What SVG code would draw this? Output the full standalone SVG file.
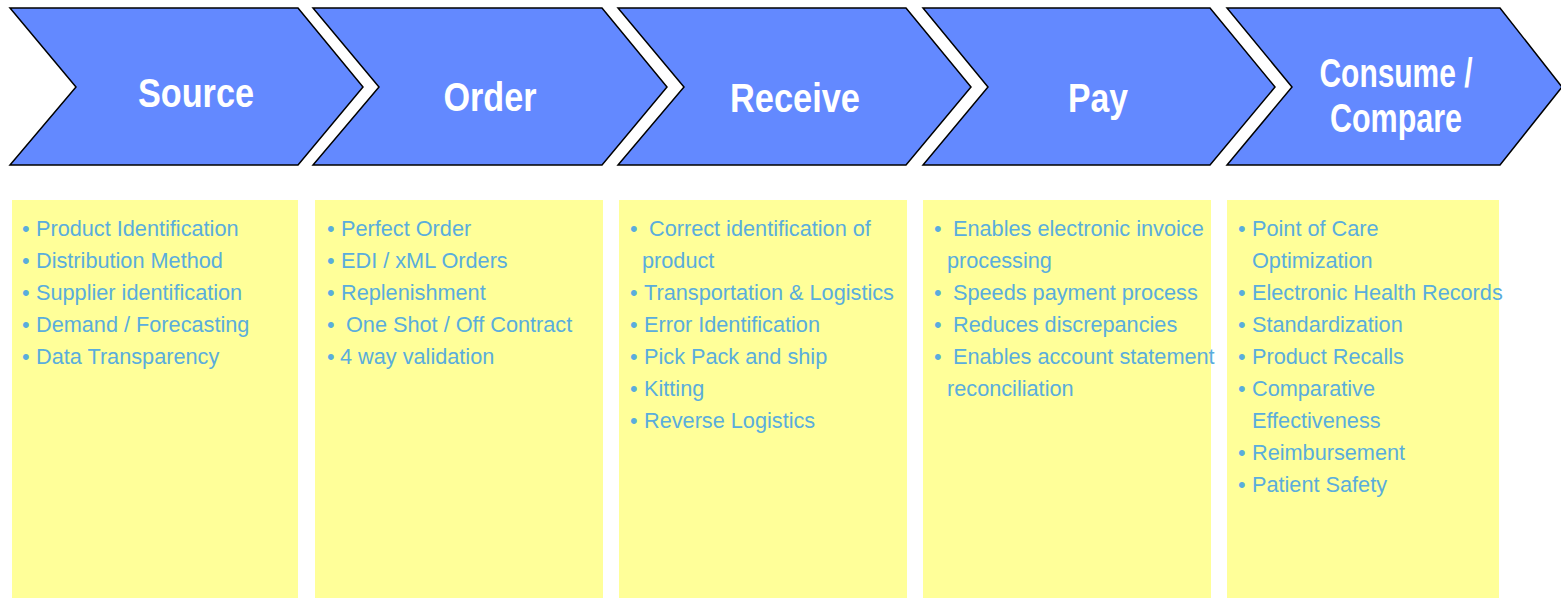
<svg xmlns="http://www.w3.org/2000/svg" width="1561" height="598" viewBox="0 0 1561 598">
<style>
.chev{fill:#6389FF;stroke:#000;stroke-width:1.5;stroke-linejoin:miter}
.ttl{font-family:"Liberation Sans",Arial,sans-serif;font-weight:bold;font-size:41px;fill:#fff;text-anchor:middle}
.box{fill:#FFFF99}
.it{font-family:"Liberation Sans",Arial,sans-serif;font-size:21.7px;fill:#5AADDD}
</style>
<rect width="1561" height="598" fill="#fff"/>
<g id="source">
<polygon class="chev" points="10,8 298,8 363,87 298,165 10,165 76,87"/>
<text class="ttl" x="196" y="107" textLength="116" lengthAdjust="spacingAndGlyphs">Source</text>
</g>
<g id="order">
<polygon class="chev" points="313,8 602,8 667,87 602,165 313,165 379,87"/>
<text class="ttl" x="490" y="111" textLength="93" lengthAdjust="spacingAndGlyphs">Order</text>
</g>
<g id="receive">
<polygon class="chev" points="618,8 906,8 971,87 906,165 618,165 684,87"/>
<text class="ttl" x="795" y="112" textLength="130" lengthAdjust="spacingAndGlyphs">Receive</text>
</g>
<g id="pay">
<polygon class="chev" points="923,8 1210,8 1275,87 1210,165 923,165 988,87"/>
<text class="ttl" x="1098" y="112" textLength="60" lengthAdjust="spacingAndGlyphs">Pay</text>
</g>
<g id="consume">
<polygon class="chev" points="1227,8 1500,8 1562,87 1500,165 1227,165 1292,87"/>
<text class="ttl" x="1396" y="87" textLength="153" lengthAdjust="spacingAndGlyphs">Consume /</text>
<text class="ttl" x="1396" y="132" textLength="132" lengthAdjust="spacingAndGlyphs">Compare</text>
</g>
<g id="source-list">
<rect class="box" x="12" y="200" width="286" height="398"/>
<text class="it"><tspan x="22" y="236">•</tspan><tspan x="36">Product Identification</tspan></text>
<text class="it"><tspan x="22" y="268">•</tspan><tspan x="36">Distribution Method</tspan></text>
<text class="it"><tspan x="22" y="300">•</tspan><tspan x="36">Supplier identification</tspan></text>
<text class="it"><tspan x="22" y="332">•</tspan><tspan x="36">Demand / Forecasting</tspan></text>
<text class="it"><tspan x="22" y="364">•</tspan><tspan x="36">Data Transparency</tspan></text>
</g>
<g id="order-list">
<rect class="box" x="315" y="200" width="288" height="398"/>
<text class="it"><tspan x="327" y="236">•</tspan><tspan x="341">Perfect Order</tspan></text>
<text class="it"><tspan x="327" y="268">•</tspan><tspan x="341">EDI / xML Orders</tspan></text>
<text class="it"><tspan x="327" y="300">•</tspan><tspan x="341">Replenishment</tspan></text>
<text class="it"><tspan x="327" y="332">•</tspan><tspan x="346">One Shot / Off Contract</tspan></text>
<text class="it"><tspan x="327" y="364">•</tspan><tspan x="340">4 way validation</tspan></text>
</g>
<g id="receive-list">
<rect class="box" x="619" y="200" width="288" height="398"/>
<text class="it"><tspan x="630" y="236">•</tspan><tspan x="649">Correct identification of</tspan></text>
<text class="it"><tspan x="642" y="268">product</tspan></text>
<text class="it"><tspan x="630" y="300">•</tspan><tspan x="644">Transportation &amp; Logistics</tspan></text>
<text class="it"><tspan x="630" y="332">•</tspan><tspan x="644">Error Identification</tspan></text>
<text class="it"><tspan x="630" y="364">•</tspan><tspan x="644">Pick Pack and ship</tspan></text>
<text class="it"><tspan x="630" y="396">•</tspan><tspan x="644">Kitting</tspan></text>
<text class="it"><tspan x="630" y="428">•</tspan><tspan x="644">Reverse Logistics</tspan></text>
</g>
<g id="pay-list">
<rect class="box" x="923" y="200" width="288" height="398"/>
<text class="it"><tspan x="934" y="236">•</tspan><tspan x="953">Enables electronic invoice</tspan></text>
<text class="it"><tspan x="947" y="268">processing</tspan></text>
<text class="it"><tspan x="934" y="300">•</tspan><tspan x="953">Speeds payment process</tspan></text>
<text class="it"><tspan x="934" y="332">•</tspan><tspan x="953">Reduces discrepancies</tspan></text>
<text class="it"><tspan x="934" y="364">•</tspan><tspan x="953">Enables account statement</tspan></text>
<text class="it"><tspan x="947" y="396">reconciliation</tspan></text>
</g>
<g id="consume-list">
<rect class="box" x="1227" y="200" width="272" height="398"/>
<text class="it"><tspan x="1238" y="236">•</tspan><tspan x="1252">Point of Care</tspan></text>
<text class="it"><tspan x="1252" y="268">Optimization</tspan></text>
<text class="it"><tspan x="1238" y="300">•</tspan><tspan x="1252">Electronic Health Records</tspan></text>
<text class="it"><tspan x="1238" y="332">•</tspan><tspan x="1252">Standardization</tspan></text>
<text class="it"><tspan x="1238" y="364">•</tspan><tspan x="1252">Product Recalls</tspan></text>
<text class="it"><tspan x="1238" y="396">•</tspan><tspan x="1252">Comparative</tspan></text>
<text class="it"><tspan x="1252" y="428">Effectiveness</tspan></text>
<text class="it"><tspan x="1238" y="460">•</tspan><tspan x="1252">Reimbursement</tspan></text>
<text class="it"><tspan x="1238" y="492">•</tspan><tspan x="1252">Patient Safety</tspan></text>
</g>
<g id="connectors"/>
</svg>
